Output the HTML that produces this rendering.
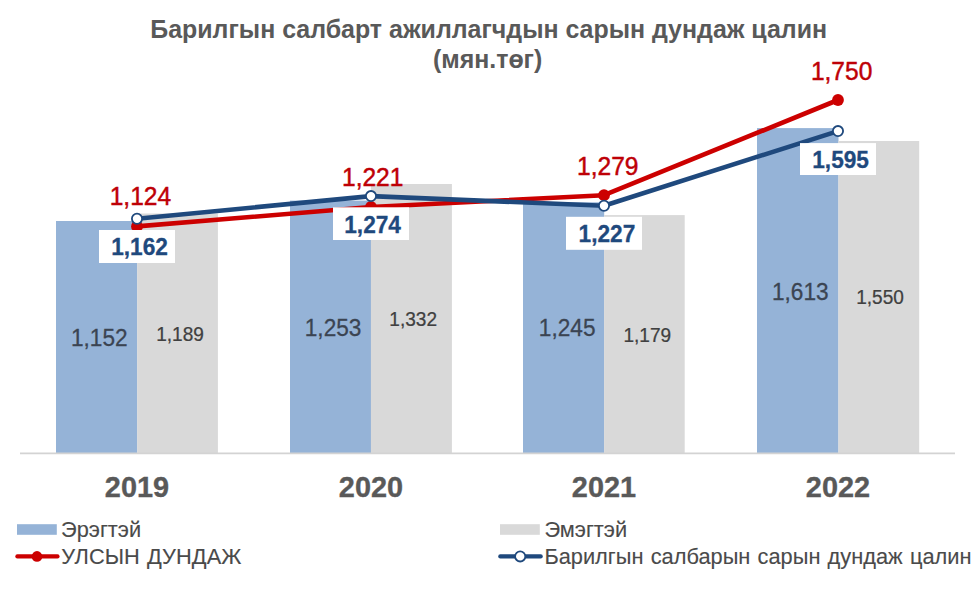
<!DOCTYPE html>
<html><head><meta charset="utf-8">
<style>
html,body{margin:0;padding:0;background:#fff;}
body{width:977px;height:597px;overflow:hidden;font-family:"Liberation Sans",sans-serif;}
svg{display:block;}
text{font-family:"Liberation Sans",sans-serif;}
.t{font-weight:bold;font-size:24.95px;fill:#595959;text-anchor:middle;}
.yr{font-weight:bold;font-size:30.1px;fill:#595959;stroke:#595959;stroke-width:0.35px;text-anchor:middle;}
.rl{font-size:25px;fill:#BE0006;stroke:#BE0006;stroke-width:0.45px;text-anchor:middle;}
.bl{font-size:23.5px;font-weight:bold;fill:#1F497D;stroke:#1F497D;stroke-width:0.3px;text-anchor:middle;}
.v1{font-size:24.1px;fill:#3B4452;stroke:#3B4452;stroke-width:0.3px;text-anchor:middle;}
.v2{font-size:19.6px;fill:#404040;stroke:#404040;stroke-width:0.25px;text-anchor:middle;}
.lg{font-size:21.8px;fill:#4A4A4A;stroke:#4A4A4A;stroke-width:0.12px;}
</style></head><body>
<svg width="977" height="597" viewBox="0 0 977 597">
<rect width="977" height="597" fill="#fff"/>
<text class="t" x="488.7" y="38.4">Барилгын салбарт ажиллагчдын сарын дундаж цалин</text>
<text class="t" x="487.6" y="68">(мян.төг)</text>

<!-- bars -->
<g fill="#95B3D7">
<rect x="56" y="221" width="81.3" height="232"/>
<rect x="290" y="200.6" width="81" height="252.4"/>
<rect x="523" y="202.3" width="81.2" height="250.7"/>
<rect x="757" y="128.1" width="81.5" height="324.9"/>
</g>
<g fill="#D9D9D9">
<rect x="137.2" y="213.5" width="80.7" height="239.5"/>
<rect x="370.9" y="184" width="81" height="269"/>
<rect x="604.1" y="215.1" width="80.6" height="237.9"/>
<rect x="838.4" y="141" width="80.8" height="312"/>
</g>
<line x1="20" y1="453.4" x2="955" y2="453.4" stroke="#D3D3D3" stroke-width="1.9"/>

<!-- bar value labels -->
<text class="v1" transform="translate(99.3,345.7) scale(0.94,1)">1,152</text>
<text class="v2" transform="translate(180,340.8) scale(0.972,1)">1,189</text>
<text class="v1" transform="translate(333.1,335.7) scale(0.94,1)">1,253</text>
<text class="v2" transform="translate(413.2,325.8) scale(0.972,1)">1,332</text>
<text class="v1" transform="translate(567.2,336.2) scale(0.94,1)">1,245</text>
<text class="v2" transform="translate(647.3,341.8) scale(0.972,1)">1,179</text>
<text class="v1" transform="translate(800.3,299.7) scale(0.94,1)">1,613</text>
<text class="v2" transform="translate(880,303.5) scale(0.972,1)">1,550</text>

<!-- lines -->
<polyline points="137,226.4 371,207 604,195.2 838,100" fill="none" stroke="#CC0000" stroke-width="4.6" stroke-linejoin="round" stroke-linecap="round"/>
<g fill="#CC0000"><circle cx="137" cy="226.4" r="5.9"/><circle cx="371" cy="207" r="5.9"/><circle cx="604" cy="195.2" r="5.9"/><circle cx="838" cy="100" r="5.9"/></g>
<polyline points="137,218.7 371,196.1 604,205.7 838,131.1" fill="none" stroke="#1F497D" stroke-width="4.6" stroke-linejoin="round" stroke-linecap="round"/>
<g fill="#fff" stroke="#1F497D" stroke-width="1.8"><circle cx="137" cy="218.7" r="5.1"/><circle cx="371" cy="196.1" r="5.1"/><circle cx="604" cy="205.7" r="5.1"/><circle cx="838" cy="131.1" r="5.1"/></g>

<!-- line labels -->
<text class="rl" transform="translate(140.4,205.2) scale(0.982,1)">1,124</text>
<text class="rl" transform="translate(372.7,186.1) scale(0.982,1)">1,221</text>
<text class="rl" transform="translate(607.8,174.7) scale(0.982,1)">1,279</text>
<text class="rl" transform="translate(841.6,79.5) scale(0.982,1)">1,750</text>
<g fill="#fff">
<rect x="99" y="230" width="76" height="33"/>
<rect x="333" y="207.3" width="76" height="32.7"/>
<rect x="566" y="216.8" width="76" height="33"/>
<rect x="800" y="143.1" width="76" height="31.9"/>
</g>
<text class="bl" transform="translate(139.5,254.8) scale(0.965,1)">1,162</text>
<text class="bl" transform="translate(372.6,232.5) scale(0.965,1)">1,274</text>
<text class="bl" transform="translate(606.9,241.8) scale(0.965,1)">1,227</text>
<text class="bl" transform="translate(840.6,167.8) scale(0.965,1)">1,595</text>

<!-- years -->
<text class="yr" transform="translate(137,497) scale(0.96,1)">2019</text>
<text class="yr" transform="translate(371,497) scale(0.96,1)">2020</text>
<text class="yr" transform="translate(604,497) scale(0.96,1)">2021</text>
<text class="yr" transform="translate(838,497) scale(0.96,1)">2022</text>

<!-- legend -->
<rect x="17" y="524.2" width="39.8" height="10.6" fill="#95B3D7"/>
<text class="lg" x="61" y="537">Эрэгтэй</text>
<rect x="500" y="524.2" width="39.8" height="10.6" fill="#D9D9D9"/>
<text class="lg" x="544.4" y="537">Эмэгтэй</text>
<line x1="17.4" y1="556.4" x2="57.5" y2="556.4" stroke="#CC0000" stroke-width="4.2" stroke-linecap="round"/>
<circle cx="37" cy="556.4" r="5.3" fill="#CC0000"/>
<text class="lg" x="61.3" y="564" style="word-spacing:1px;letter-spacing:0.08px">УЛСЫН ДУНДАЖ</text>
<line x1="500.3" y1="556.4" x2="540.7" y2="556.4" stroke="#1F497D" stroke-width="4.2" stroke-linecap="round"/>
<circle cx="520.2" cy="556.4" r="5.1" fill="#fff" stroke="#1F497D" stroke-width="1.8"/>
<text class="lg" x="544.4" y="564.4" style="word-spacing:1.15px">Барилгын салбарын сарын дундаж цалин</text>
</svg>
</body></html>
